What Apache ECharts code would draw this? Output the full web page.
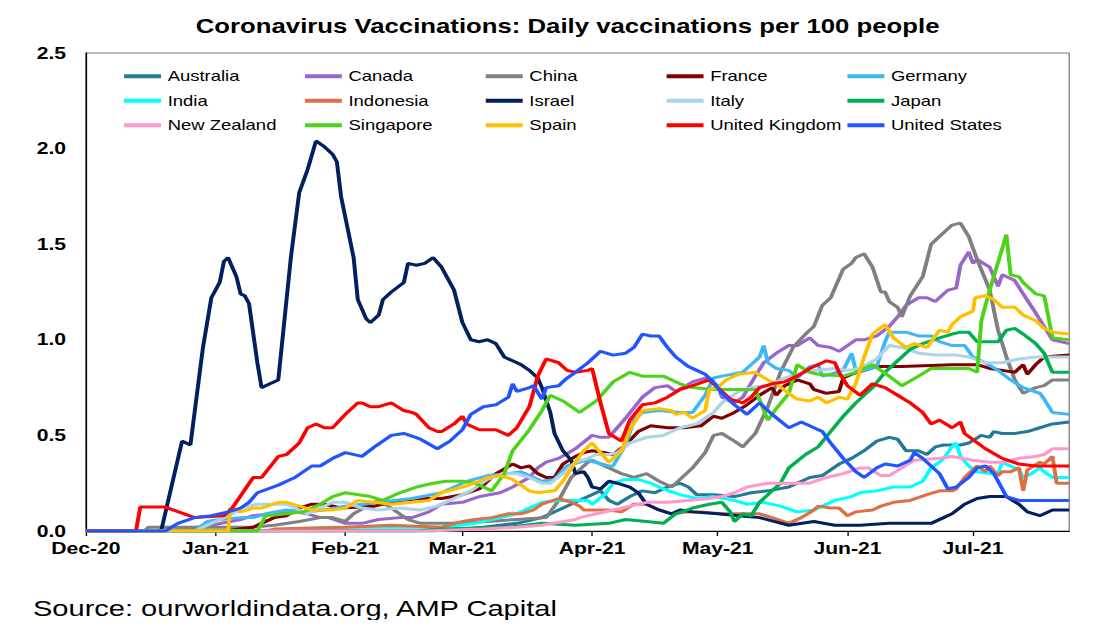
<!DOCTYPE html>
<html>
<head>
<meta charset="utf-8">
<title>Coronavirus Vaccinations</title>
<script src="https://cdn.jsdelivr.net/npm/echarts@6/dist/echarts.min.js"></script>
<style>
  html, body { margin: 0; padding: 0; background: #fff; overflow: hidden; }
  /* the source picture is stretched sideways, so the chart is drawn narrow and scaled */
  #chart { width: 828px; height: 640px; transform: scaleX(1.32); transform-origin: 0 0; }
</style>
</head>
<body>
<div id="chart"></div>
<script>
// x = days since 1 Dec 2020
var monthDays = [0, 31, 62, 90, 121, 151, 182, 212];
var monthLabels = ['Dec-20', 'Jan-21', 'Feb-21', 'Mar-21', 'Apr-21', 'May-21', 'Jun-21', 'Jul-21'];

var countries = ['Australia', 'Canada', 'China', 'France', 'Germany', 'India', 'Indonesia', 'Israel',
  'Italy', 'Japan', 'New Zealand', 'Singapore', 'Spain', 'United Kingdom', 'United States'];
var colors = ['#247A96', '#9966CC', '#808080', '#800000', '#3DB8F5', '#00FFFF', '#DD7044', '#002060',
  '#ADD3E6', '#00B050', '#FF99CC', '#4DD41A', '#FFC000', '#FF0000', '#2255FF'];

var australia = [[0,0],[83,0],[95,0.02],[103,0.04],[109,0.07],[113,0.11],[117,0.15],[120,0.18],[123,0.21],[125,0.16],[127,0.14],[130,0.18],[133,0.21],[136,0.20],[139,0.23],[142,0.25],[144,0.23],[146,0.19],[150,0.19],[155,0.18],[159,0.20],[163,0.21],[168,0.23],[173,0.28],[176,0.29],[180,0.35],[183,0.38],[186,0.42],[189,0.47],[192,0.49],[194,0.48],[196,0.42],[199,0.42],[201,0.40],[203,0.44],[205,0.45],[209,0.45],[211,0.46],[214,0.50],[216,0.49],[217,0.52],[219,0.51],[222,0.51],[225,0.52],[228,0.54],[231,0.56],[235,0.57]];
var canada = [[0,0],[20,0],[30,0.03],[37,0.06],[40,0.08],[45,0.09],[50,0.10],[53,0.09],[56,0.07],[58,0.07],[62,0.04],[66,0.04],[70,0.06],[75,0.07],[78,0.07],[82,0.10],[85,0.14],[90,0.15],[94,0.18],[99,0.20],[102,0.23],[106,0.28],[108,0.33],[110,0.36],[113,0.38],[117,0.43],[121,0.50],[123,0.49],[125,0.49],[129,0.59],[133,0.70],[136,0.75],[139,0.76],[141,0.73],[145,0.78],[148,0.80],[151,0.76],[152,0.70],[155,0.67],[157,0.70],[160,0.81],[162,0.88],[165,0.93],[168,0.97],[170,0.97],[173,1.01],[175,0.97],[178,0.96],[180,0.94],[182,0.97],[184,1.00],[186,1.00],[189,1.02],[192,1.07],[194,1.12],[196,1.18],[199,1.22],[201,1.22],[203,1.20],[206,1.26],[208,1.27],[209,1.39],[211,1.46],[212,1.40],[213,1.42],[216,1.38],[218,1.28],[219,1.34],[222,1.31],[224,1.24],[227,1.14],[229,1.07],[231,1.00],[235,0.98]];
var china = [[0,0],[14,0],[15,0.02],[40,0.02],[45,0.03],[51,0.05],[56,0.07],[59,0.07],[62,0.05],[64,0.09],[68,0.14],[70,0.16],[73,0.12],[77,0.06],[80,0.04],[87,0.04],[96,0.05],[103,0.06],[110,0.07],[113,0.16],[116,0.28],[118,0.32],[120,0.36],[121,0.37],[125,0.33],[128,0.30],[131,0.28],[134,0.30],[137,0.26],[140,0.23],[142,0.27],[145,0.33],[148,0.41],[150,0.50],[152,0.51],[155,0.47],[157,0.44],[160,0.51],[163,0.65],[166,0.83],[169,0.96],[172,1.03],[174,1.07],[176,1.18],[178,1.22],[181,1.37],[183,1.40],[184,1.43],[186,1.45],[188,1.38],[190,1.25],[191,1.25],[192,1.20],[194,1.17],[195,1.12],[197,1.23],[200,1.33],[202,1.50],[204,1.54],[206,1.58],[207,1.60],[209,1.61],[211,1.54],[213,1.42],[216,1.26],[218,1.05],[220,0.91],[222,0.79],[224,0.72],[227,0.75],[229,0.76],[231,0.79],[235,0.79]];
var france = [[0,0],[33,0],[40,0.02],[45,0.07],[48,0.08],[51,0.12],[54,0.14],[57,0.14],[61,0.12],[69,0.13],[75,0.16],[80,0.17],[85,0.17],[90,0.19],[94,0.22],[98,0.30],[102,0.35],[104,0.33],[106,0.34],[108,0.30],[110,0.28],[112,0.28],[114,0.35],[117,0.39],[119,0.41],[121,0.42],[124,0.41],[126,0.40],[129,0.45],[132,0.52],[135,0.55],[139,0.54],[143,0.54],[147,0.55],[150,0.60],[152,0.59],[155,0.62],[158,0.66],[161,0.71],[164,0.75],[165,0.71],[167,0.76],[170,0.79],[173,0.77],[174,0.74],[177,0.72],[180,0.73],[181,0.80],[183,0.82],[186,0.84],[189,0.86],[195,0.86],[207,0.87],[213,0.87],[216,0.85],[219,0.84],[222,0.83],[224,0.87],[225,0.82],[227,0.87],[229,0.91],[235,0.92]];
var germany = [[0,0],[26,0],[29,0.05],[32,0.06],[37,0.07],[40,0.07],[43,0.09],[48,0.11],[53,0.10],[57,0.11],[62,0.13],[70,0.15],[78,0.17],[85,0.20],[91,0.26],[96,0.29],[101,0.30],[104,0.31],[107,0.28],[109,0.26],[112,0.27],[115,0.34],[118,0.36],[120,0.37],[125,0.34],[126,0.34],[129,0.45],[131,0.58],[133,0.62],[137,0.63],[142,0.62],[145,0.62],[148,0.71],[150,0.80],[152,0.81],[157,0.83],[159,0.87],[161,0.91],[162,0.97],[163,0.88],[165,0.85],[168,0.84],[170,0.80],[173,0.86],[175,0.87],[176,0.81],[178,0.82],[181,0.84],[183,0.93],[184,0.84],[186,0.84],[189,0.86],[191,0.99],[192,1.04],[196,1.04],[199,1.02],[202,1.02],[204,0.99],[207,0.97],[210,0.97],[212,0.91],[215,0.88],[218,0.84],[221,0.79],[224,0.75],[228,0.72],[229,0.69],[231,0.62],[235,0.61]];
var india = [[0,0],[46,0],[48,0.01],[60,0.02],[78,0.02],[85,0.02],[93,0.04],[99,0.07],[103,0.09],[106,0.12],[109,0.15],[113,0.16],[117,0.16],[120,0.16],[121,0.14],[124,0.19],[126,0.25],[129,0.27],[132,0.27],[135,0.25],[138,0.22],[142,0.19],[146,0.17],[150,0.18],[155,0.16],[158,0.14],[162,0.15],[166,0.13],[170,0.10],[174,0.11],[179,0.16],[183,0.18],[185,0.20],[189,0.21],[193,0.23],[197,0.23],[200,0.26],[202,0.33],[204,0.36],[205,0.38],[207,0.44],[208,0.46],[209,0.39],[211,0.34],[213,0.31],[216,0.30],[218,0.30],[219,0.36],[221,0.34],[223,0.32],[224,0.28],[226,0.30],[228,0.33],[229,0.31],[231,0.28],[235,0.28]];
var indonesia = [[0,0],[43,0],[45,0.01],[62,0.02],[73,0.03],[85,0.02],[90,0.05],[93,0.06],[97,0.07],[101,0.09],[104,0.09],[107,0.11],[109,0.14],[113,0.17],[116,0.15],[118,0.13],[119,0.11],[121,0.11],[125,0.11],[128,0.10],[131,0.14],[134,0.14],[137,0.11],[140,0.09],[144,0.10],[147,0.10],[152,0.09],[157,0.09],[161,0.09],[164,0.07],[168,0.04],[171,0.07],[174,0.11],[175,0.13],[178,0.12],[180,0.12],[182,0.08],[184,0.10],[188,0.11],[190,0.13],[193,0.15],[197,0.16],[201,0.19],[204,0.21],[207,0.21],[208,0.22],[210,0.28],[212,0.32],[213,0.34],[215,0.31],[216,0.34],[218,0.29],[219,0.31],[221,0.31],[223,0.33],[224,0.21],[225,0.32],[228,0.36],[229,0.35],[231,0.39],[232,0.25],[235,0.25]];
var israel = [[0,0],[18,0],[23,0.47],[25,0.45],[28,0.96],[30,1.22],[32,1.30],[33,1.41],[34,1.43],[36,1.33],[37,1.24],[38,1.23],[39,1.19],[41,0.88],[42,0.75],[44,0.77],[46,0.79],[49,1.43],[51,1.77],[53,1.89],[55,2.04],[57,2.01],[59,1.97],[60,1.93],[61,1.75],[64,1.43],[65,1.21],[67,1.11],[68,1.09],[70,1.13],[71,1.21],[73,1.25],[76,1.30],[77,1.40],[79,1.39],[81,1.40],[83,1.43],[85,1.38],[87,1.30],[88,1.26],[90,1.09],[92,1.00],[94,0.99],[96,1.00],[98,0.98],[100,0.91],[102,0.89],[104,0.87],[106,0.84],[108,0.80],[109,0.75],[111,0.62],[112,0.51],[114,0.42],[116,0.37],[117,0.30],[119,0.31],[120,0.28],[121,0.23],[123,0.22],[125,0.26],[127,0.25],[130,0.23],[132,0.20],[134,0.14],[137,0.11],[140,0.09],[142,0.11],[145,0.10],[151,0.09],[156,0.08],[161,0.07],[168,0.03],[174,0.05],[179,0.03],[185,0.03],[192,0.04],[202,0.04],[205,0.07],[207,0.09],[210,0.14],[213,0.17],[216,0.18],[220,0.18],[223,0.14],[225,0.10],[228,0.08],[231,0.11],[235,0.11]];
var italy = [[0,0],[26,0],[30,0.04],[35,0.09],[37,0.12],[41,0.14],[48,0.14],[51,0.11],[53,0.09],[56,0.12],[59,0.15],[62,0.15],[66,0.12],[70,0.11],[75,0.12],[80,0.11],[84,0.13],[88,0.17],[92,0.21],[96,0.27],[100,0.30],[103,0.30],[106,0.28],[109,0.25],[111,0.25],[114,0.30],[117,0.36],[120,0.38],[122,0.40],[125,0.40],[127,0.41],[130,0.46],[134,0.49],[138,0.50],[142,0.54],[146,0.56],[150,0.62],[152,0.67],[156,0.73],[159,0.75],[163,0.76],[167,0.80],[170,0.82],[174,0.84],[179,0.85],[182,0.84],[185,0.85],[189,0.90],[192,0.97],[195,0.96],[199,0.93],[203,0.92],[208,0.92],[211,0.91],[215,0.88],[219,0.88],[223,0.90],[227,0.91],[235,0.91]];
var japan = [[0,0],[78,0],[85,0.01],[101,0.02],[109,0.04],[117,0.03],[125,0.04],[129,0.06],[134,0.05],[138,0.04],[141,0.09],[145,0.12],[149,0.14],[152,0.15],[154,0.10],[155,0.05],[157,0.09],[159,0.08],[161,0.15],[164,0.21],[166,0.25],[168,0.33],[172,0.40],[175,0.44],[178,0.52],[181,0.60],[184,0.67],[188,0.75],[191,0.83],[194,0.89],[197,0.95],[200,0.98],[204,1.01],[207,1.03],[209,1.04],[211,1.04],[213,0.99],[218,0.99],[220,1.05],[222,1.06],[224,1.03],[227,0.98],[229,0.93],[231,0.83],[235,0.83]];
var newZealand = [[0,0],[81,0],[95,0.01],[103,0.02],[109,0.03],[117,0.06],[118,0.07],[122,0.09],[126,0.11],[130,0.13],[134,0.15],[139,0.15],[144,0.16],[149,0.17],[152,0.18],[155,0.20],[158,0.23],[163,0.25],[168,0.25],[173,0.25],[177,0.28],[181,0.30],[185,0.33],[187,0.33],[190,0.29],[192,0.29],[195,0.33],[198,0.37],[204,0.38],[207,0.39],[212,0.37],[216,0.36],[219,0.36],[223,0.38],[227,0.39],[229,0.40],[231,0.43],[235,0.43]];
var singapore = [[0,0],[41,0],[43,0.08],[48,0.09],[52,0.10],[56,0.14],[59,0.18],[62,0.20],[68,0.18],[71,0.16],[75,0.20],[79,0.23],[83,0.25],[86,0.26],[90,0.26],[93,0.25],[95,0.23],[97,0.21],[100,0.30],[102,0.42],[106,0.53],[109,0.63],[111,0.71],[114,0.68],[118,0.62],[122,0.68],[126,0.78],[130,0.83],[133,0.81],[138,0.81],[142,0.77],[145,0.75],[150,0.74],[160,0.74],[163,0.58],[165,0.64],[168,0.72],[170,0.87],[173,0.83],[175,0.82],[181,0.81],[184,0.83],[188,0.87],[192,0.81],[195,0.76],[199,0.81],[202,0.85],[211,0.85],[213,0.83],[214,1.10],[216,1.26],[220,1.55],[221,1.34],[223,1.33],[224,1.30],[227,1.24],[229,1.23],[229.5,1.18],[231,1.01],[235,1.00]];
var spain = [[0,0],[34,0],[34.5,0.12],[37,0.10],[40,0.12],[42,0.12],[46,0.15],[48,0.15],[51,0.13],[54,0.11],[59,0.11],[62,0.12],[65,0.16],[69,0.15],[73,0.14],[78,0.15],[82,0.16],[85,0.20],[90,0.23],[94,0.26],[96,0.28],[99,0.29],[102,0.27],[106,0.21],[108,0.20],[112,0.21],[114,0.26],[117,0.36],[119,0.42],[121,0.46],[123,0.41],[125,0.36],[128,0.42],[130,0.53],[133,0.63],[137,0.64],[140,0.63],[141,0.61],[143,0.62],[145,0.59],[148,0.63],[149,0.74],[151,0.75],[153,0.79],[156,0.82],[160,0.83],[163,0.79],[165,0.77],[168,0.72],[170,0.69],[173,0.68],[175,0.70],[177,0.67],[180,0.70],[182,0.69],[184,0.77],[186,0.91],[188,1.03],[191,1.08],[193,1.01],[196,0.96],[198,0.98],[201,0.96],[204,1.05],[206,1.04],[207,1.08],[209,1.12],[212,1.15],[212.5,1.22],[215,1.23],[217,1.21],[219,1.17],[222,1.17],[224,1.13],[227,1.10],[229,1.06],[231,1.04],[235,1.03]];
var unitedKingdom = [[0,0],[12,0],[13,0.125],[19,0.125],[26,0.07],[33,0.08],[35,0.12],[40,0.28],[42,0.28],[46,0.39],[48,0.40],[51,0.46],[53,0.54],[55,0.56],[57,0.54],[59,0.54],[62,0.61],[65,0.67],[66,0.67],[68,0.65],[70,0.65],[73,0.67],[76,0.63],[78,0.62],[79,0.61],[82,0.54],[84,0.52],[85,0.52],[88,0.56],[90,0.60],[91,0.56],[94,0.53],[98,0.53],[101,0.50],[103,0.54],[106,0.65],[108,0.81],[110,0.90],[113,0.88],[115,0.84],[117,0.83],[120,0.84],[121,0.85],[123,0.67],[125,0.51],[128,0.47],[130,0.58],[133,0.66],[136,0.67],[139,0.70],[142,0.74],[145,0.76],[149,0.79],[151,0.75],[154,0.69],[157,0.67],[159,0.70],[161,0.75],[164,0.77],[167,0.78],[170,0.81],[173,0.85],[177,0.89],[179,0.88],[180,0.83],[182,0.76],[185,0.71],[186,0.73],[188,0.77],[191,0.75],[194,0.71],[197,0.67],[200,0.62],[202,0.56],[204,0.58],[207,0.54],[209,0.57],[210,0.51],[215,0.43],[219,0.38],[223,0.35],[227,0.34],[235,0.34]];
var unitedStates = [[0,0],[19,0],[22,0.04],[26,0.07],[30,0.08],[34,0.10],[37,0.12],[39,0.15],[41,0.20],[46,0.24],[48,0.26],[50,0.28],[54,0.34],[56,0.34],[59,0.38],[62,0.41],[66,0.39],[69,0.44],[73,0.50],[76,0.51],[80,0.48],[84,0.43],[87,0.47],[90,0.53],[92,0.61],[95,0.65],[98,0.66],[101,0.70],[102,0.77],[103,0.73],[106,0.75],[107,0.76],[109,0.69],[110,0.75],[113,0.76],[115,0.80],[117,0.83],[120,0.88],[123,0.94],[126,0.92],[129,0.93],[131,0.96],[133,1.03],[135,1.02],[137,1.02],[139,0.96],[141,0.91],[144,0.86],[146,0.84],[148,0.82],[150,0.78],[152,0.72],[155,0.66],[158,0.61],[161,0.67],[164,0.61],[168,0.54],[171,0.57],[174,0.54],[176,0.52],[178,0.46],[181,0.38],[184,0.31],[186,0.28],[189,0.33],[191,0.35],[194,0.34],[197,0.37],[198,0.41],[200,0.38],[204,0.30],[206,0.22],[208,0.23],[211,0.28],[213,0.33],[215,0.34],[217,0.30],[219,0.22],[220,0.18],[223,0.16],[227,0.16],[235,0.16]];

var seriesData = [australia, canada, china, france, germany, india, indonesia, israel,
  italy, japan, newZealand, singapore, spain, unitedKingdom, unitedStates];

var font = '"Liberation Sans", Arial, sans-serif';

var series = [];
for (var i = 0; i < countries.length; i++) {
  series.push({
    name: countries[i],
    type: 'line',
    data: seriesData[i],
    showSymbol: false,
    color: colors[i],
    lineStyle: { width: 3, color: colors[i] },
    emphasis: { disabled: true }
  });
}

var myChart = echarts.init(document.getElementById('chart'), null, { renderer: 'svg' });
var option = {
  animation: false,
  title: {
    text: 'Coronavirus Vaccinations: Daily vaccinations per 100 people',
    left: 425,
    textAlign: 'center',
    top: 11,
    textStyle: { fontFamily: font, fontSize: 19.5, fontWeight: 'bold', color: '#000' }
  },
  legend: {
    data: countries,
    left: 94,
    top: 66,
    width: 700,
    padding: 0,
    itemGap: 4,
    itemWidth: 28,
    itemHeight: 4,
    icon: 'rect',
    textStyle: { fontFamily: font, fontSize: 14, color: '#000', width: 100, lineHeight: 20.5 }
  },
  grid: {
    left: 65,
    right: 18,
    top: 53,
    bottom: 109,
    show: true,
    borderColor: '#7f7f7f',
    borderWidth: 1
  },
  xAxis: {
    type: 'value',
    min: 0,
    max: 235,
    splitLine: { show: false },
    axisLine: { lineStyle: { color: '#000', width: 1 } },
    axisTick: { show: true, length: 5, customValues: monthDays, lineStyle: { color: '#000' } },
    axisLabel: {
      customValues: monthDays,
      margin: 9,
      fontFamily: font,
      fontSize: 16,
      fontWeight: 'bold',
      color: '#000',
      formatter: function (v) {
        var k = monthDays.indexOf(v);
        return k >= 0 ? monthLabels[k] : '';
      }
    }
  },
  yAxis: {
    type: 'value',
    min: 0,
    max: 2.5,
    interval: 0.5,
    splitLine: { show: false },
    axisLine: { show: true, lineStyle: { color: '#000', width: 1 } },
    axisTick: { show: false },
    axisLabel: {
      margin: 15,
      fontFamily: font,
      fontSize: 16,
      fontWeight: 'bold',
      color: '#000',
      formatter: function (v) { return v.toFixed(1); }
    }
  },
  graphic: [{
    type: 'text',
    left: 25,
    top: 597,
    style: { text: 'Source: ourworldindata.org, AMP Capital', font: '22px ' + font, fill: '#000' }
  }],
  series: series
};
myChart.setOption(option);
</script>
</body>
</html>
